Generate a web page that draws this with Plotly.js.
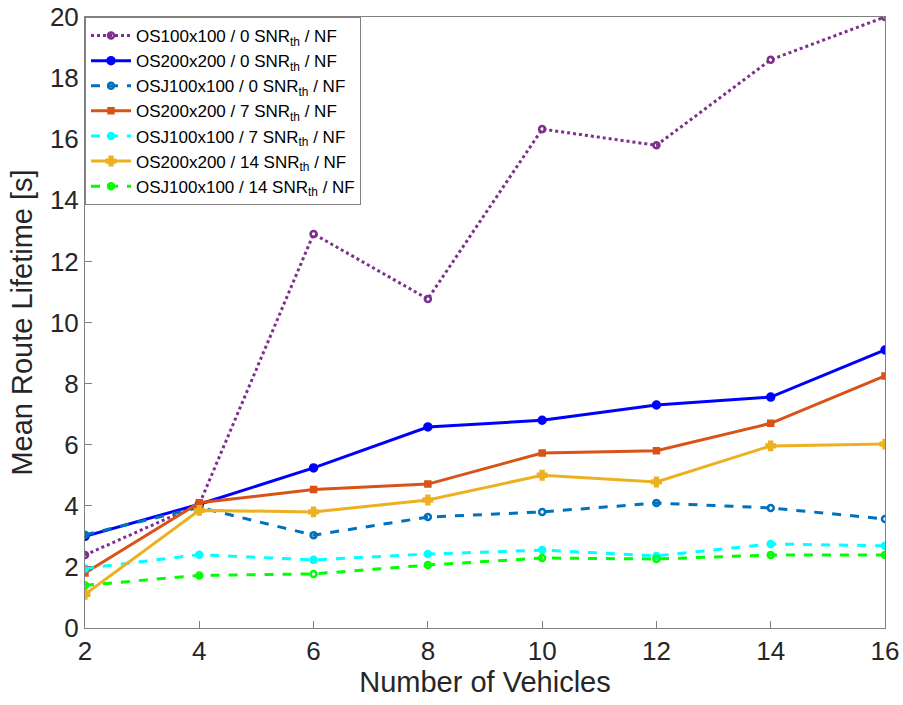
<!DOCTYPE html>
<html><head><meta charset="utf-8">
<script src="https://cdn.plot.ly/plotly-3.0.1.min.js"></script>
<style>body{margin:0;background:#fff}#chart{width:903px;height:705px}</style>
</head><body><div id="chart"></div>
<script>
const vehicles = [2, 4, 6, 8, 10, 12, 14, 16];
const os100_0 = [2.39, 4.05, 12.9, 10.77, 16.33, 15.8, 18.6, 20.0];
const os200_0 = [3.0, 4.05, 5.24, 6.58, 6.8, 7.3, 7.56, 9.1];
const osj100_0 = [3.05, 3.95, 3.04, 3.63, 3.8, 4.09, 3.93, 3.57];
const os200_7 = [1.8, 4.1, 4.53, 4.71, 5.73, 5.8, 6.7, 8.25];
const osj100_7 = [1.95, 2.4, 2.23, 2.42, 2.55, 2.36, 2.75, 2.69];
const os200_14 = [1.1, 3.85, 3.8, 4.19, 5.0, 4.78, 5.96, 6.02];
const osj100_14 = [1.4, 1.72, 1.77, 2.06, 2.29, 2.26, 2.39, 2.39];
const names = [
  'OS100x100 / 0 SNR<sub>th</sub> / NF',
  'OS200x200 / 0 SNR<sub>th</sub> / NF',
  'OSJ100x100 / 0 SNR<sub>th</sub> / NF',
  'OS200x200 / 7 SNR<sub>th</sub> / NF',
  'OSJ100x100 / 7 SNR<sub>th</sub> / NF',
  'OS200x200 / 14 SNR<sub>th</sub> / NF',
  'OSJ100x100 / 14 SNR<sub>th</sub> / NF'
];
const series = [os100_0, os200_0, osj100_0, os200_7, osj100_7, os200_14, osj100_14];
const styles = [
  {c:'#7E2F8E', d:'dot', m:'circle-open', s:6},
  {c:'#0000FF', d:'solid', m:'circle', s:7},
  {c:'#0072BD', d:'dash', m:'circle-open', s:6},
  {c:'#D95319', d:'solid', m:'square', s:5},
  {c:'#00FFFF', d:'dash', m:'circle', s:6},
  {c:'#EDB120', d:'solid', m:'cross', s:7},
  {c:'#00FF00', d:'dash', m:'circle-open', s:6}
];
const traces = series.map((y, i) => ({
  x: vehicles, y: y, name: names[i], type: 'scatter', mode: 'lines+markers',
  line: {color: styles[i].c, width: 3, dash: styles[i].d},
  marker: {color: styles[i].c, symbol: styles[i].m, size: styles[i].s, line: {color: styles[i].c, width: 2.5}}
}));
const FONT = 'Liberation Sans, Arial, sans-serif';
const axisCommon = {
  showgrid: false, zeroline: false, showline: true, mirror: true,
  linecolor: '#808080', linewidth: 1, ticks: 'inside', ticklen: 7, tickcolor: '#808080',
  tickfont: {family: FONT, size: 26, color: '#262626'}
};
const layout = {
  width: 903, height: 705,
  margin: {l: 85, r: 18, t: 17, b: 77},
  paper_bgcolor: '#fff', plot_bgcolor: '#fff',
  showlegend: true,
  legend: {
    x: 0, y: 1, xanchor: 'left', yanchor: 'top',
    bgcolor: '#fff', bordercolor: '#808080', borderwidth: 1,
    font: {family: FONT, size: 17, color: '#000'},
    tracegroupgap: 0, itemwidth: 40
  },
  xaxis: Object.assign({}, axisCommon, {
    range: [2, 16], tickvals: vehicles, ticktext: vehicles.map(String),
    title: {text: 'Number of Vehicles', font: {family: FONT, size: 29, color: '#262626'}, standoff: 6}
  }),
  yaxis: Object.assign({}, axisCommon, {
    range: [0, 20], dtick: 2,
    title: {text: 'Mean Route Lifetime [s]', font: {family: FONT, size: 29, color: '#262626'}, standoff: 8}
  })
};
Plotly.newPlot('chart', traces, layout, {displayModeBar: false});
</script></body></html>
